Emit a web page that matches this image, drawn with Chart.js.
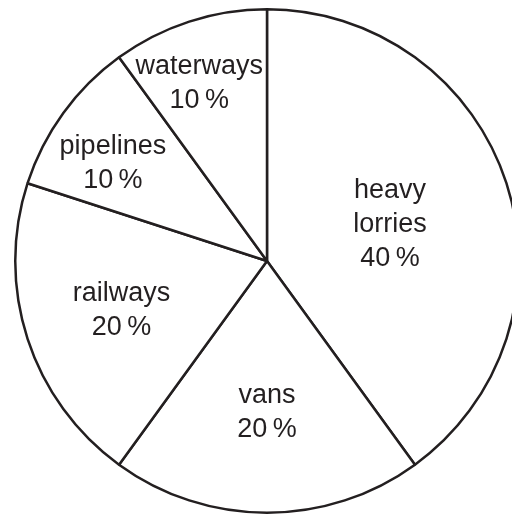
<!DOCTYPE html>
<html>
<head>
<meta charset="utf-8">
<script src="https://cdn.jsdelivr.net/npm/chart.js@4"></script>
<style>
html,body{margin:0;padding:0;background:#fff;overflow:hidden;width:512px;height:515px;}
#pie{position:absolute;left:12px;top:6px;}
</style>
</head>
<body>
<canvas id="pie" width="510" height="510"></canvas>
<script>
// transport share, clockwise from the top
const labels=["heavy lorries","vans","railways","pipelines","waterways"];
const shares=[40,20,20,10,10];
const labelLines=[["heavy","lorries"],["vans"],["railways"],["pipelines"],["waterways"]];

// where each label block sits: share of the slice's sweep, and share of the radius
const labelSweep=[0.51,0.5,0.49,0.40,0.42];
const labelDist=[0.51,0.60,0.61,0.725,0.756];

const inLabels={
  id:'inLabels',
  afterDatasetsDraw(chart){
    const ctx=chart.ctx;
    const arcs=chart.getDatasetMeta(0).data;
    ctx.save();
    ctx.fillStyle="#231f20";
    ctx.font="27px 'Liberation Sans', Arial, sans-serif";
    ctx.textAlign="center";
    ctx.textBaseline="middle";
    arcs.forEach((a,i)=>{
      const p=a.getProps(['x','y','startAngle','endAngle','outerRadius'],true);
      const ang=p.startAngle+(p.endAngle-p.startAngle)*labelSweep[i];
      const r=p.outerRadius*labelDist[i];
      const cx=p.x+Math.cos(ang)*r;
      const cy=p.y+Math.sin(ang)*r;
      const lines=labelLines[i].concat([shares[i]+"\u2009%"]);
      const lh=34;
      const y0=cy-(lines.length-1)*lh/2;
      lines.forEach((t,k)=>ctx.fillText(t,cx,y0+k*lh));
    });
    ctx.restore();
  }
};

new Chart(document.getElementById("pie"),{
  type:'pie',
  data:{
    labels:labels,
    datasets:[{
      data:shares,
      backgroundColor:"#ffffff",
      borderColor:"#231f20",
      borderWidth:2.5,
      borderAlign:'center'
    }]
  },
  options:{
    responsive:false,
    animation:false,
    layout:{padding:2},
    plugins:{legend:{display:false},tooltip:{enabled:false},title:{display:false}}
  },
  plugins:[inLabels]
});
</script>
</body>
</html>
